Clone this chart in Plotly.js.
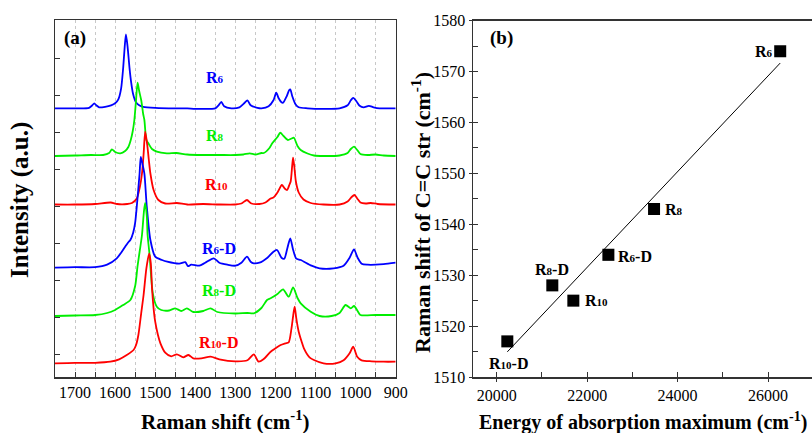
<!DOCTYPE html>
<html>
<head>
<meta charset="utf-8">
<script src="https://cdn.plot.ly/plotly-3.0.1.min.js"></script>
<style>html,body{margin:0;padding:0;background:#fff;}#chart{width:812px;height:433px;}</style>
</head>
<body>
<div id="chart"></div>
<script>
// ---------- Panel (a): Raman spectra, [wavenumber, intensity above own baseline] ----------
const R6 = [[1750,0],[1700,0],[1665,0.5],[1657,3],[1652,5],[1647,3],[1640,1],[1625,1.5],[1610,3],[1600,5],[1592,9],[1585,20],[1580,40],[1576,62],[1573,74],[1569,62],[1564,40],[1560,26],[1555,14],[1548,6],[1540,3],[1530,1.5],[1500,0.5],[1450,0],[1420,0],[1400,-0.5],[1350,0],[1342,3],[1335,6.5],[1328,2],[1310,0],[1290,1],[1278,5],[1270,8],[1262,3],[1245,0.5],[1235,0],[1217,2],[1205,8],[1198,15.6],[1192,10],[1185,6],[1181,5.6],[1172,12],[1166,18],[1163,19],[1158,12],[1150,4],[1142,1],[1120,0],[1080,-0.5],[1040,0],[1020,3],[1012,8],[1006,10.5],[998,7],[990,2.5],[980,1],[967,2.5],[955,1],[940,0],[900,0]];
const R8 = [[1750,0],[1700,0.5],[1660,1],[1630,1],[1615,3],[1608,6.7],[1600,4],[1587,2.7],[1575,5],[1567,9],[1561,16],[1556,25],[1552,36],[1548,55],[1544,73.3],[1540,65],[1535,56],[1530,42],[1527,36],[1522,16],[1517,12.7],[1508,7],[1496,4.3],[1471,2.7],[1447,3],[1420,1.5],[1380,1],[1340,1],[1300,1],[1280,1.5],[1264,2.7],[1250,1.5],[1235,3],[1229,3],[1215,8],[1208,12.7],[1195,19],[1188,23.3],[1180,20],[1169,16],[1160,17.5],[1154,18.3],[1145,10],[1137,6],[1120,2.5],[1104,0.5],[1080,0],[1040,0.5],[1020,3],[1012,7],[1004,9.3],[996,6],[988,2],[970,1],[950,1.5],[930,0.5],[900,0]];
const R10 = [[1750,0],[1700,0],[1650,0.5],[1611,2],[1595,0.5],[1570,0.5],[1558,1.5],[1546,6],[1538,18],[1533,31],[1529,50],[1525,72.8],[1520,60],[1516,45],[1512,31],[1504,14.5],[1492,4.5],[1475,1],[1446,1.5],[1420,0],[1380,0.5],[1340,0],[1300,0],[1285,1],[1271,4.5],[1260,1],[1240,0.5],[1225,2],[1212,6],[1205,7],[1195,12],[1184,19.5],[1177,16],[1171,14.5],[1165,20],[1162,23],[1158,40],[1156,46.8],[1153,38],[1149,23],[1142,12],[1130,5],[1112,1.5],[1080,0],[1040,0],[1020,3],[1010,7.5],[1003,9.5],[996,6],[988,2],[975,1],[962,1.5],[945,0.5],[900,0]];
const R6D = [[1750,0],[1700,0.5],[1650,0.5],[1620,3],[1596,9.4],[1585,15],[1575,21],[1568,25],[1562,27.7],[1555,35],[1550,45],[1546,61],[1539,94],[1536,110.7],[1532,104],[1527,94],[1521,61],[1512,27.7],[1500,11],[1483,7.7],[1470,6],[1440,4],[1425,5.5],[1418,1.5],[1410,3],[1390,2],[1375,5],[1354,9.4],[1340,5],[1320,3],[1300,2],[1285,5],[1271,11],[1262,6],[1254,4.4],[1240,5],[1220,10],[1205,16],[1196,17.7],[1185,10],[1178,9],[1170,20],[1163,29.4],[1156,18],[1148,9],[1137,7.7],[1110,2],[1090,-0.6],[1055,-0.6],[1030,2],[1015,10],[1004,18.4],[995,10],[985,4],[970,3],[950,3],[930,3.5],[900,5]];
const R8D = [[1750,0],[1700,0.5],[1650,1],[1620,3],[1600,6],[1580,11],[1562,16],[1550,30],[1544,50],[1539,64],[1533,81],[1528,105],[1525,113],[1521,100],[1519,81],[1514,61],[1506,22.7],[1496,9.3],[1485,6],[1465,5.5],[1450,7.7],[1435,5],[1421,7.7],[1405,4],[1380,5],[1362,7.7],[1345,4],[1300,2.5],[1270,3],[1254,2.7],[1235,8],[1221,16],[1212,17.7],[1195,22],[1181,26.7],[1167,19.3],[1156,28.7],[1145,18],[1137,12.7],[1112,4.3],[1090,0],[1060,0],[1040,3],[1025,11],[1012,7.7],[1004,10],[995,5],[988,1],[950,1],[900,1]];
const R10D = [[1750,0],[1700,0.5],[1650,0.5],[1612,1.6],[1590,4],[1571,8.3],[1554,13.3],[1548,18],[1542,28.3],[1535,50],[1529,68.3],[1522,95],[1515,110],[1511,100],[1508,75.3],[1504,55],[1500,41.6],[1493,28],[1487,20],[1475,10.6],[1460,7],[1446,9],[1430,6],[1417,8.3],[1405,5],[1385,5],[1362,6.6],[1340,4],[1300,2],[1270,3],[1254,9],[1242,1.6],[1230,4],[1212,11.6],[1200,15],[1187,18.3],[1175,20],[1167,21],[1160,35],[1155,50],[1152,56.6],[1148,45],[1142,31.6],[1135,22],[1129,15],[1115,6],[1104,3.3],[1080,0],[1050,0],[1030,3],[1015,10],[1006,16.6],[996,6.6],[985,3],[960,2],[930,1.6],[900,1.6]];

const specNames   = ['R6','R8','R10','R6-D','R8-D','R10-D'];
const specData    = [R6, R8, R10, R6D, R8D, R10D];
const specOffsets = [268.7, 221, 172.5, 109.3, 61, 13.7];
const specColors  = ['#0000ff','#00ee00','#ff0000','#0000ff','#00ee00','#ff0000'];
const specLabelX  = [1352, 1352, 1347, 1342, 1342, 1342];
const specLabelY  = [300, 242, 193, 129, 87, 35];
const ramanTicks  = [1700,1600,1500,1400,1300,1200,1100,1000,900];

// ---------- Panel (b): Raman shift vs absorption energy ----------
const samples   = ['R6','R8','R6-D','R8-D','R10','R10-D'];
const absEnergy = [26270, 23480, 22470, 21230, 21695, 20235];
const ramanCC   = [1574, 1543, 1534, 1528, 1525, 1517];
const sampleLabelX = [25920, 23922, 23060, 21212, 22197, 20272];
const sampleLabelY = [1573.9, 1542.9, 1533.7, 1531.1, 1525.1, 1512.7];

function lbl(name, size) {
  const m = name.match(/^R(\d+)(.*)$/);
  return 'R<span style="font-size:' + size + 'px">' + m[1] + '</span>' + m[2];
}

const W = 812, H = 433;
const px = x => x / W, py = y => 1 - y / H;
const serif = 'Liberation Serif';

const traces = [];
specData.forEach((d, i) => {
  traces.push({
    x: d.map(p => p[0]),
    y: d.map(p => p[1] + specOffsets[i]),
    type: 'scatter', mode: 'lines',
    line: {color: specColors[i], width: 1.8, shape: 'spline', smoothing: 0.7},
    xaxis: 'x', yaxis: 'y', hoverinfo: 'skip'
  });
});

// least-squares line through panel (b) points
const n = absEnergy.length;
const mx = absEnergy.reduce((a, b) => a + b, 0) / n;
const my = ramanCC.reduce((a, b) => a + b, 0) / n;
let sxy = 0, sxx = 0;
for (let i = 0; i < n; i++) { sxy += (absEnergy[i] - mx) * (ramanCC[i] - my); sxx += (absEnergy[i] - mx) ** 2; }
const slope = sxy / sxx, icpt = my - slope * mx;
const xmin = Math.min(...absEnergy), xmax = Math.max(...absEnergy);
traces.push({
  x: [xmin, xmax], y: [icpt + slope * xmin, icpt + slope * xmax],
  type: 'scatter', mode: 'lines', line: {color: '#000', width: 1},
  xaxis: 'x2', yaxis: 'y2', hoverinfo: 'skip'
});
traces.push({
  x: absEnergy, y: ramanCC, type: 'scatter', mode: 'markers',
  marker: {symbol: 'square', size: 12, color: '#000'},
  xaxis: 'x2', yaxis: 'y2', hoverinfo: 'skip'
});

const C = {xanchor: 'center', yanchor: 'middle', showarrow: false};
const annotations = [];
specNames.forEach((nm, i) => annotations.push(Object.assign({
  x: specLabelX[i], y: specLabelY[i], xref: 'x', yref: 'y',
  text: lbl(nm, 11), font: {family: serif, size: 16, color: specColors[i], weight: 700}
}, C)));
samples.forEach((nm, i) => annotations.push(Object.assign({
  x: sampleLabelX[i], y: sampleLabelY[i], xref: 'x2', yref: 'y2',
  text: lbl(nm, 11), font: {family: serif, size: 16, color: '#000', weight: 700}
}, C)));
const paperNotes = [
  [74.5, 38, 0, '(a)', 19],
  [501, 38, 0, '(b)', 19],
  [225, 420, 0, 'Raman shift (cm<sup>-1</sup>)', 21],
  [20, 200, -90, 'Intensity (a.u.)', 25],
  [421, 212, -90, 'Raman shift of C=C str (cm<sup>-1</sup>)', 22],
  [643, 421, 0, 'Energy of absorption maximum (cm<sup>-1</sup>)', 20]
];
paperNotes.forEach(a => annotations.push(Object.assign({
  x: px(a[0]), y: py(a[1]), xref: 'paper', yref: 'paper', textangle: a[2], text: a[3],
  font: {family: serif, size: a[4], color: '#000', weight: 700}
}, C)));

const tickFont = {family: serif, size: 16, color: '#000'};
const layout = {
  width: W, height: H, margin: {l: 0, r: 0, t: 0, b: 0},
  paper_bgcolor: '#fff', plot_bgcolor: '#fff', showlegend: false,
  xaxis: {
    domain: [px(55), px(395.7)], range: [1750, 900], anchor: 'y',
    tickvals: ramanTicks, ticks: 'inside', ticklen: 5, tickcolor: '#333',
    showline: true, mirror: true, linecolor: '#333', linewidth: 1.5,
    showgrid: true, gridcolor: '#c8c8c8', griddash: 'dot', gridwidth: 1,
    minor: {dtick: 50, tick0: 900, ticks: 'inside', ticklen: 5, tickcolor: '#333', showgrid: true, gridcolor: '#c8c8c8', griddash: 'dot'},
    tickfont: tickFont, zeroline: false
  },
  yaxis: {
    domain: [py(377), py(20)], range: [0, 357], anchor: 'x',
    tick0: 23, dtick: 37, ticks: 'inside', ticklen: 5, tickcolor: '#333', showticklabels: false,
    showline: true, mirror: true, linecolor: '#333', linewidth: 1.5, showgrid: false, zeroline: false
  },
  xaxis2: {
    domain: [px(473), 1], range: [19476, 26973], anchor: 'y2',
    dtick: 2000, tick0: 20000, tickformat: 'd', ticks: 'outside', ticklen: 3, tickcolor: '#333',
    minor: {dtick: 1000, ticks: 'inside', ticklen: 5, tickcolor: '#333'},
    showline: true, mirror: true, linecolor: '#333', linewidth: 1.5, showgrid: false, zeroline: false,
    tickfont: tickFont
  },
  yaxis2: {
    domain: [py(377), py(20.7)], range: [1510, 1580], anchor: 'x2',
    dtick: 10, tickformat: 'd', ticks: 'outside', ticklen: 3, tickcolor: '#333',
    minor: {dtick: 5, ticks: 'inside', ticklen: 5, tickcolor: '#333'},
    showline: true, linecolor: '#333', linewidth: 1.5, showgrid: false, zeroline: false,
    tickfont: tickFont
  },
  annotations: annotations
};
Plotly.newPlot('chart', traces, layout, {staticPlot: true, displayModeBar: false});
</script>
</body>
</html>
